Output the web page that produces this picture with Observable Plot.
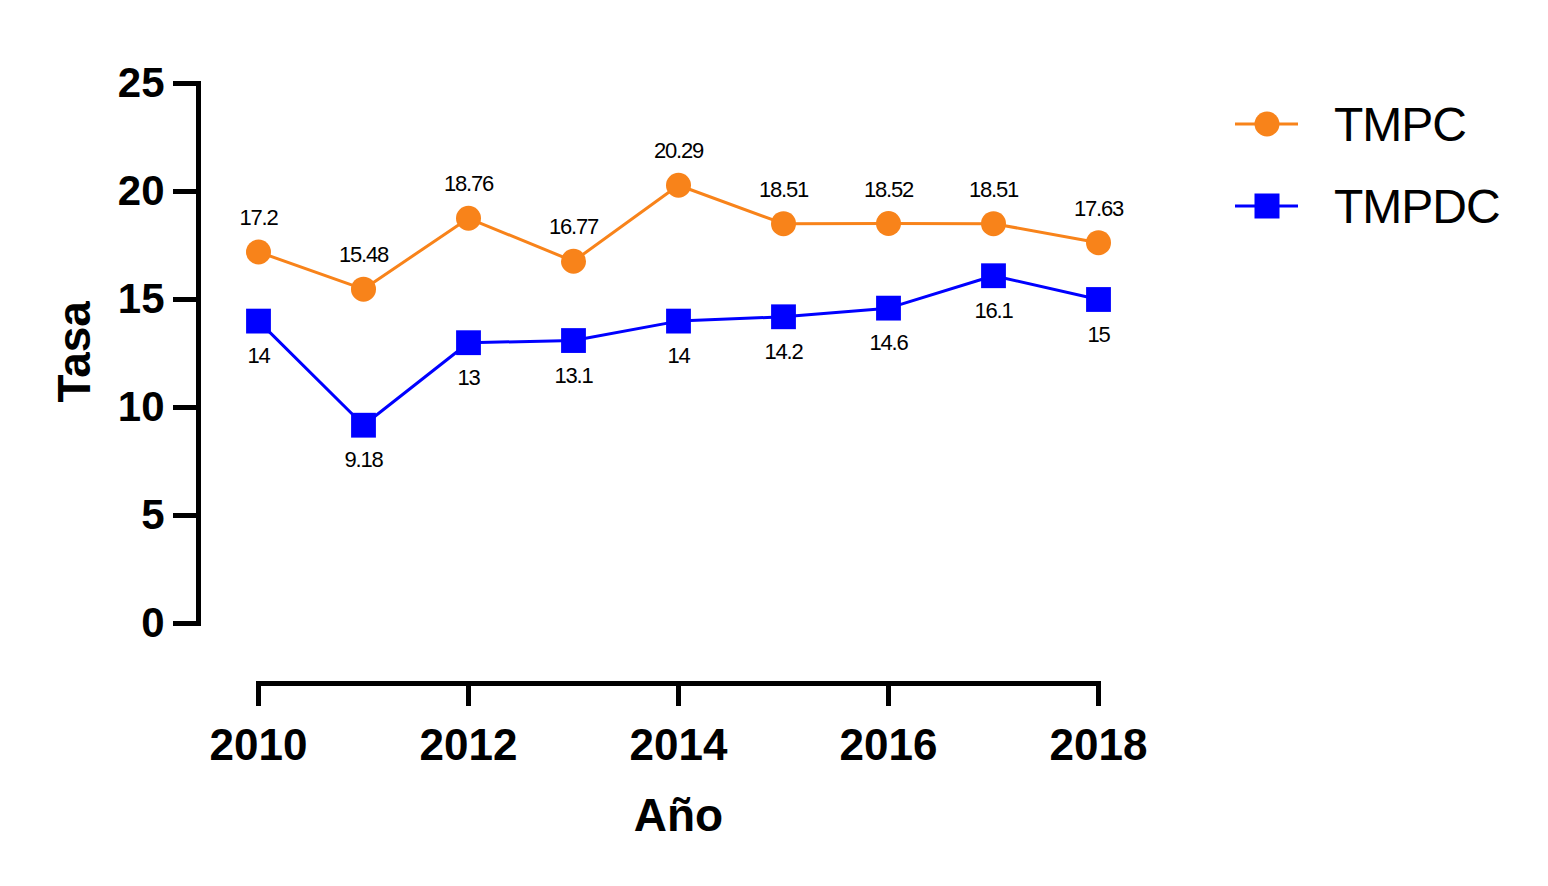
<!DOCTYPE html>
<html>
<head>
<meta charset="utf-8">
<script src="https://cdn.jsdelivr.net/npm/d3@7"></script>
<script src="https://cdn.jsdelivr.net/npm/@observablehq/plot@0.6"></script>
<style>
  html, body { margin: 0; padding: 0; background: #fff; }
  body { width: 1548px; height: 886px; position: relative; overflow: hidden; font-family: "Liberation Sans", Arial, sans-serif; }
  #chart { position: absolute; left: 0; top: 0; }
  .legend { position: absolute; left: 1230px; top: 0; }
  .item { position: absolute; left: 0; display: flex; align-items: center; white-space: nowrap; }
  .item span { font-size: 48px; letter-spacing: -1px; color: #000; margin-left: 34px; }
</style>
</head>
<body>
<div id="chart"></div>
<div class="legend" id="legend"></div>
<script>
const years = [2010, 2011, 2012, 2013, 2014, 2015, 2016, 2017, 2018];
const tmpc = [17.2, 15.48, 18.76, 16.77, 20.29, 18.51, 18.52, 18.51, 17.63];
const tmpdc = [14, 9.18, 13, 13.1, 14, 14.2, 14.6, 16.1, 15];
const tmpcLabels = ["17.2", "15.48", "18.76", "16.77", "20.29", "18.51", "18.52", "18.51", "17.63"];
const tmpdcLabels = ["14", "9.18", "13", "13.1", "14", "14.2", "14.6", "16.1", "15"];
const yTicks = [0, 5, 10, 15, 20, 25];
const xTicks = [2010, 2012, 2014, 2016, 2018];
const seriesNames = ["TMPC", "TMPDC"];
const colors = {TMPC: "#f8831a", TMPDC: "#0000ff"};
const yLabel = "Tasa";
const xLabel = "Año";

const dataC = years.map((year, i) => ({year, value: tmpc[i], label: tmpcLabels[i]}));
const dataD = years.map((year, i) => ({year, value: tmpdc[i], label: tmpdcLabels[i]}));

const plot = Plot.plot({
  width: 1548,
  height: 886,
  marginLeft: 198,
  marginRight: 450,
  marginTop: 83,
  marginBottom: 203,
  style: {fontFamily: "'Liberation Sans', Arial, sans-serif", background: "white", color: "black"},
  x: {domain: [2010, 2018], range: [258, 1098]},
  y: {domain: [0, 25], range: [623, 83]},
  marks: [
    Plot.frame({anchor: "left", insetBottom: 60, strokeWidth: 5, stroke: "black", strokeLinecap: "square"}),
    Plot.frame({anchor: "bottom", insetLeft: 60, strokeWidth: 5, stroke: "black", strokeLinecap: "square"}),
    Plot.axisY({ticks: yTicks, tickSize: 25, tickPadding: 9, strokeWidth: 5, fontSize: 42, fontWeight: "bold", label: null, stroke: "black"}),
    Plot.axisX({ticks: xTicks, tickSize: 23, tickPadding: 22, tickFormat: "d", strokeWidth: 5, fontSize: 44, fontWeight: "bold", label: null, stroke: "black"}),
    Plot.text([yLabel], {frameAnchor: "left", rotate: -90, dx: -123, dy: 19, fontSize: 46, fontWeight: "bold", fill: "black"}),
    Plot.text([xLabel], {frameAnchor: "bottom", dx: 30, dy: 147, fontSize: 46, fontWeight: "bold", fill: "black"}),
    Plot.line(dataC, {x: "year", y: "value", stroke: colors.TMPC, strokeWidth: 3}),
    Plot.line(dataD, {x: "year", y: "value", stroke: colors.TMPDC, strokeWidth: 3}),
    Plot.dot(dataC, {x: "year", y: "value", r: 12.5, fill: colors.TMPC, stroke: null}),
    Plot.dot(dataD, {x: "year", y: "value", r: 14, symbol: "square", fill: colors.TMPDC, stroke: null}),
    Plot.text(dataC, {x: "year", y: "value", text: "label", dy: -34, fontSize: 22, fill: "black"}),
    Plot.text(dataD, {x: "year", y: "value", text: "label", dy: 35, fontSize: 22, fill: "black"})
  ]
});
d3.select(plot).selectAll('g[font-size="22"] text').style("letter-spacing", "-1.2px");
document.getElementById("chart").appendChild(plot);

// legend
const legend = document.getElementById("legend");
const centers = [124, 206];
seriesNames.forEach((name, i) => {
  const item = document.createElement("div");
  item.className = "item";
  item.style.top = (centers[i] - 30) + "px";
  item.style.height = "60px";
  const ns = "http://www.w3.org/2000/svg";
  const svg = document.createElementNS(ns, "svg");
  svg.setAttribute("width", 70);
  svg.setAttribute("height", 60);
  const line = document.createElementNS(ns, "line");
  line.setAttribute("x1", 5); line.setAttribute("x2", 68);
  line.setAttribute("y1", 30); line.setAttribute("y2", 30);
  line.setAttribute("stroke", colors[name]); line.setAttribute("stroke-width", 3);
  svg.appendChild(line);
  if (i === 0) {
    const c = document.createElementNS(ns, "circle");
    c.setAttribute("cx", 37); c.setAttribute("cy", 30); c.setAttribute("r", 12.5);
    c.setAttribute("fill", colors[name]);
    svg.appendChild(c);
  } else {
    const r = document.createElementNS(ns, "rect");
    r.setAttribute("x", 24.5); r.setAttribute("y", 17.5); r.setAttribute("width", 25); r.setAttribute("height", 25);
    r.setAttribute("fill", colors[name]);
    svg.appendChild(r);
  }
  item.appendChild(svg);
  const span = document.createElement("span");
  span.textContent = name;
  item.appendChild(span);
  legend.appendChild(item);
});
</script>
</body>
</html>
